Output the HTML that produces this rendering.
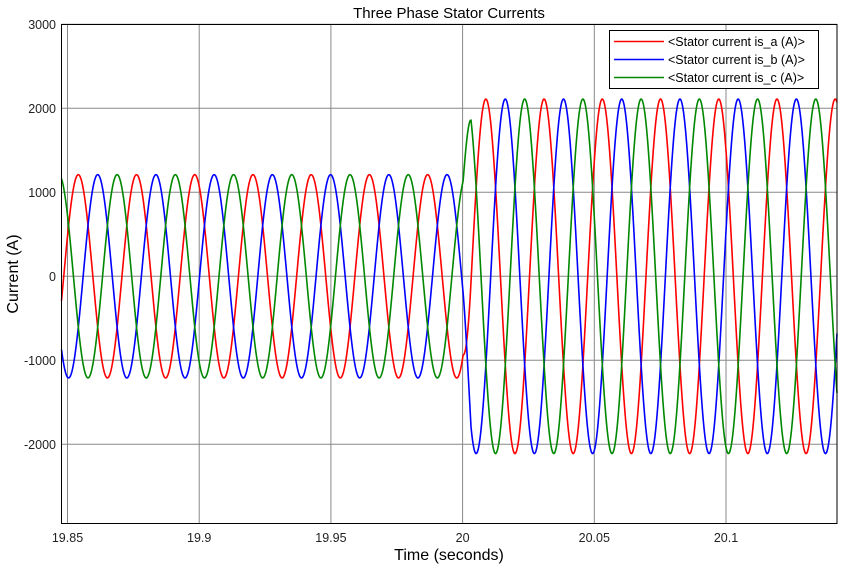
<!DOCTYPE html>
<html><head><meta charset="utf-8"><style>
body{margin:0;background:#fff;font-family:"Liberation Sans",sans-serif}
svg text{font-family:"Liberation Sans",sans-serif}
</style></head><body>
<svg id="chart" width="853" height="570" xmlns="http://www.w3.org/2000/svg">
<rect x="0" y="0" width="853" height="570" fill="#fff"/>
<g id="grid"></g>
<g id="series"></g>
<rect x="61.5" y="24.5" width="775.5" height="499" fill="none" stroke="#000" stroke-width="1"/>
<g id="ticks"></g>
<text x="449" y="18" text-anchor="middle" font-size="15">Three Phase Stator Currents</text>
<text x="449" y="560" text-anchor="middle" font-size="16">Time (seconds)</text>
<text transform="translate(18,274) rotate(-90)" text-anchor="middle" font-size="16">Current (A)</text>
<g>
<rect x="609.5" y="30.5" width="209" height="58" fill="#fff" stroke="#000"/>
<line x1="614" y1="41.5" x2="664" y2="41.5" stroke="#f00" stroke-width="1.5"/>
<text x="668" y="46" font-size="12.5">&lt;Stator current is_a (A)&gt;</text>
<line x1="614" y1="59.5" x2="664" y2="59.5" stroke="#00f" stroke-width="1.5"/>
<text x="668" y="64" font-size="12.5">&lt;Stator current is_b (A)&gt;</text>
<line x1="614" y1="77.5" x2="664" y2="77.5" stroke="#080" stroke-width="1.5"/>
<text x="668" y="82" font-size="12.5">&lt;Stator current is_c (A)&gt;</text>
</g>
</svg>
<script>
const xTicks=[19.85,19.9,19.95,20,20.05,20.1];
const xTickLabels=["19.85","19.9","19.95","20","20.05","20.1"];
const yTicks=[-2000,-1000,0,1000,2000,3000];
const yTickLabels=["-2000","-1000","0","1000","2000","3000"];
const seriesNames=["is_a","is_b","is_c"];
const seriesColors=["#f00","#00f","#080"];
const phaseShiftsDeg=[0,-120,-240];
const segmentTimes=[19.8485,20.0002,20.0032,20.1425];
const segmentAmps=[1210,1210,2110,2110];
const freqHz=45.24;
const peakTime=19.8541;

const X0=61.5,X1=837,Y0=24.5,Y1=523.5;
function xs(t){return 67.5+(t-19.85)*2634;}
function ys(v){return 276.3-v*0.084;}
function amp(t){
  for(let i=0;i<segmentTimes.length-1;i++){
    if(t<=segmentTimes[i+1]){const f=(t-segmentTimes[i])/(segmentTimes[i+1]-segmentTimes[i]);
      return segmentAmps[i]+(segmentAmps[i+1]-segmentAmps[i])*Math.max(0,Math.min(1,f));}
  }
  return segmentAmps[segmentAmps.length-1];
}
const NS="http://www.w3.org/2000/svg";
const grid=document.getElementById('grid'),ticks=document.getElementById('ticks'),ser=document.getElementById('series');
xTicks.forEach((v,i)=>{
  const x=xs(v);
  const l=document.createElementNS(NS,'line');
  l.setAttribute('x1',x);l.setAttribute('x2',x);l.setAttribute('y1',Y0);l.setAttribute('y2',Y1);
  l.setAttribute('stroke','#888');l.setAttribute('stroke-width','1');
  
  
  grid.appendChild(l);
  const t=document.createElementNS(NS,'text');
  t.setAttribute('x',x);t.setAttribute('y',542);t.setAttribute('text-anchor','middle');t.setAttribute('font-size','12.5');t.setAttribute('fill','#222');
  t.textContent=xTickLabels[i];
  
  
  ticks.appendChild(t);
});
yTicks.forEach((v,i)=>{
  const y=ys(v);
  const l=document.createElementNS(NS,'line');
  l.setAttribute('x1',X0);l.setAttribute('x2',X1);l.setAttribute('y1',y);l.setAttribute('y2',y);
  l.setAttribute('stroke','#888');l.setAttribute('stroke-width','1');
  
  
  grid.appendChild(l);
  const t=document.createElementNS(NS,'text');
  t.setAttribute('x',56);t.setAttribute('y',y+4.5);t.setAttribute('text-anchor','end');t.setAttribute('font-size','12.5');t.setAttribute('fill','#222');
  t.textContent=yTickLabels[i];
  
  
  ticks.appendChild(t);
});
seriesNames.forEach((n,k)=>{
  let d='';
  for(let px=X0;px<=X1;px+=0.5){
    const t=19.85+(px-67.5)/2634;
    const v=amp(t)*Math.cos(2*Math.PI*freqHz*(t-peakTime)+phaseShiftsDeg[k]*Math.PI/180);
    d+=(d?'L':'M')+px.toFixed(1)+' '+ys(v).toFixed(2);
  }
  const p=document.createElementNS(NS,'path');
  p.setAttribute('d',d);p.setAttribute('fill','none');p.setAttribute('stroke',seriesColors[k]);p.setAttribute('stroke-width','1.6');
  
  
  ser.appendChild(p);
});
</script>
</body></html>
